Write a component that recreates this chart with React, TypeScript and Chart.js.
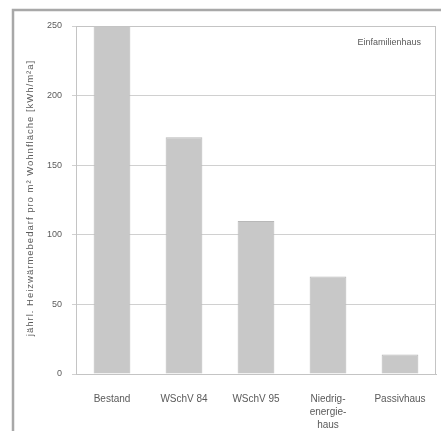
import React, { useEffect, useRef } from "react";
import { Chart, registerables } from "chart.js";

Chart.register(...registerables);

const categories: (string | string[])[] = ["Bestand", "WSchV 84", "WSchV 95", ["Niedrig-", "energie-", "haus"], "Passivhaus"];
const values: number[] = [250, 170, 110, 70, 14];
const yTicks: number[] = [0, 50, 100, 150, 200, 250];
const yTitle = "jährl. Heizwärmebedarf pro m² Wohnfläche [kWh/m²a]";
const legendText = "Einfamilienhaus";

const FONT = "'Liberation Sans', Arial, sans-serif";

const framePlugin = {
  id: "framePlugin",
  beforeDraw(chart: any) {
    const ctx = chart.ctx;
    ctx.save();
    ctx.fillStyle = "#ffffff";
    ctx.fillRect(0, 0, chart.width, chart.height);
    ctx.strokeStyle = "#a8a8a8";
    ctx.lineWidth = 2.5;
    ctx.strokeRect(13, 10, 440, 440);
    ctx.restore();
  },
  afterDraw(chart: any) {
    const ctx = chart.ctx;
    const a = chart.chartArea;
    ctx.save();
    ctx.strokeStyle = "#c4c4c4";
    ctx.lineWidth = 1;
    ctx.strokeRect(a.left + 0.5, a.top + 0.5, a.right - a.left - 1, a.bottom - a.top);
    ctx.fillStyle = "#5a5a5a";
    ctx.font = `9px ${FONT}`;
    ctx.textAlign = "right";
    ctx.textBaseline = "middle";
    ctx.fillText(legendText, a.right - 15, 43);
    ctx.translate(30, 198);
    ctx.rotate(-Math.PI / 2);
    ctx.textAlign = "center";
    ctx.font = `9.5px ${FONT}`;
    try { (ctx as any).letterSpacing = "1px"; } catch (e) {}
    ctx.fillText(yTitle, 0, 0);
    ctx.restore();
  },
};

export default function App() {
  const ref = useRef<HTMLCanvasElement>(null);
  useEffect(() => {
    if (!ref.current) return;
    const chart = new Chart(ref.current, {
      type: "bar",
      data: {
        labels: categories,
        datasets: [
          {
            data: values,
            backgroundColor: "#c8c8c8",
            borderColor: "#b8b8b8",
            borderWidth: 1,
            barPercentage: 0.51,
            categoryPercentage: 1,
          },
        ],
      },
      options: {
        animation: false,
        responsive: false,
        maintainAspectRatio: false,
        layout: { padding: { left: 0, top: 26, right: 5, bottom: 0 } },
        plugins: { legend: { display: false }, tooltip: { enabled: false } },
        scales: {
          x: {
            grid: { display: false },
            border: { display: true, color: "#c4c4c4" },
            ticks: { color: "#5a5a5a", font: { family: FONT, size: 10, lineHeight: 1.3 }, padding: 11, maxRotation: 0, autoSkip: false },
            afterFit(scale: any) { scale.height = 57; },
          },
          y: {
            min: 0,
            max: 250,
            afterBuildTicks(scale: any) { scale.ticks = yTicks.map((v) => ({ value: v })); },
            grid: { color: "#d0d0d0", tickLength: 4 },
            border: { display: true, color: "#c4c4c4" },
            ticks: { color: "#5a5a5a", font: { family: FONT, size: 9 }, padding: 10 },
            afterFit(scale: any) { scale.width = 76; },
          },
        },
      },
      plugins: [framePlugin],
    });
    return () => chart.destroy();
  }, []);
  return (
    <div style={{ position: "fixed", left: 0, top: 0, width: 441, height: 431 }}>
      <canvas ref={ref} width={441} height={431} style={{ width: 441, height: 431, display: "block" }} />
    </div>
  );
}
